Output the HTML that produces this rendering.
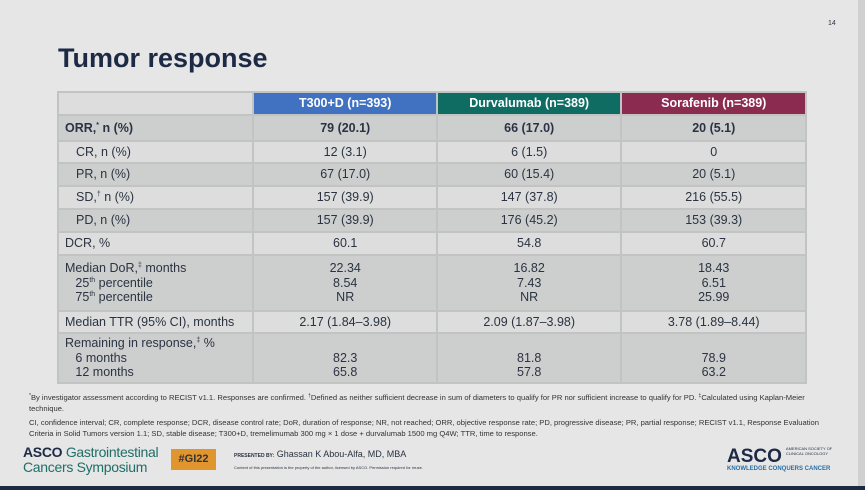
<!DOCTYPE html>
<html><head><meta charset="utf-8"><style>
body{margin:0;width:865px;height:490px;overflow:hidden;background:#e5e6e5;font-family:"Liberation Sans",sans-serif;color:#2b3342;position:relative}
.abs{position:absolute}
sup{font-size:7px;vertical-align:baseline;position:relative;top:-5px;line-height:0}
table{position:absolute;left:57px;top:91px;width:750px;border-collapse:collapse;font-size:12.5px}
td{border:2px solid #c2c4c3;padding:0;text-align:center;line-height:14.5px}
td.l{text-align:left;padding-left:6px}
td.i{padding-left:17px}
.d td{background:#cdcfce}
.w td{background:#dcdddc}
.h td{color:#fff;font-weight:bold}
</style></head><body>
<div class="abs" style="left:828px;top:20px;font-size:7px">14</div>
<div class="abs" style="left:58px;top:43px;font-size:27px;font-weight:bold;color:#1d2a45">Tumor response</div>
<table>
<colgroup><col style="width:196px"><col style="width:184px"><col style="width:185px"><col style="width:185px"></colgroup>
<tr class="h" style="height:23px"><td style="background:#dcdddc"></td><td style="background:#4172c1">T300+D (n=393)</td><td style="background:#0f6c63">Durvalumab (n=389)</td><td style="background:#8c2b50">Sorafenib (n=389)</td></tr>
<tr class="d" style="height:26px;font-weight:bold"><td class="l">ORR,<sup>*</sup> n (%)</td><td>79 (20.1)</td><td>66 (17.0)</td><td>20 (5.1)</td></tr>
<tr class="w" style="height:22px"><td class="l i">CR, n (%)</td><td>12 (3.1)</td><td>6 (1.5)</td><td>0</td></tr>
<tr class="d" style="height:23px"><td class="l i">PR, n (%)</td><td>67 (17.0)</td><td>60 (15.4)</td><td>20 (5.1)</td></tr>
<tr class="w" style="height:23px"><td class="l i">SD,<sup>†</sup> n (%)</td><td>157 (39.9)</td><td>147 (37.8)</td><td>216 (55.5)</td></tr>
<tr class="d" style="height:23px"><td class="l i">PD, n (%)</td><td>157 (39.9)</td><td>176 (45.2)</td><td>153 (39.3)</td></tr>
<tr class="w" style="height:23px"><td class="l">DCR, %</td><td>60.1</td><td>54.8</td><td>60.7</td></tr>
<tr class="d" style="height:56px"><td class="l">Median DoR,<sup>‡</sup> months<br>&nbsp;&nbsp;&nbsp;25<sup>th</sup> percentile<br>&nbsp;&nbsp;&nbsp;75<sup>th</sup> percentile</td><td>22.34<br>8.54<br>NR</td><td>16.82<br>7.43<br>NR</td><td>18.43<br>6.51<br>25.99</td></tr>
<tr class="w" style="height:22px"><td class="l">Median TTR (95% CI), months</td><td>2.17 (1.84–3.98)</td><td>2.09 (1.87–3.98)</td><td>3.78 (1.89–8.44)</td></tr>
<tr class="d" style="height:50px"><td class="l">Remaining in response,<sup>‡</sup> %<br>&nbsp;&nbsp;&nbsp;6 months<br>&nbsp;&nbsp;&nbsp;12 months</td><td><br>82.3<br>65.8</td><td><br>81.8<br>57.8</td><td><br>78.9<br>63.2</td></tr>
</table>
<div class="abs" style="left:29px;top:393px;width:800px;font-size:7.6px;line-height:10.5px;color:#333">
<div><sup style="top:-3px;font-size:5px">*</sup>By investigator assessment according to RECIST v1.1. Responses are confirmed. <sup style="top:-3px;font-size:5px">†</sup>Defined as neither sufficient decrease in sum of diameters to qualify for PR nor sufficient increase to qualify for PD. <sup style="top:-3px;font-size:5px">‡</sup>Calculated using Kaplan-Meier technique.</div>
<div style="margin-top:4px">CI, confidence interval; CR, complete response; DCR, disease control rate; DoR, duration of response; NR, not reached; ORR, objective response rate; PD, progressive disease; PR, partial response; RECIST v1.1, Response Evaluation Criteria in Solid Tumors version 1.1; SD, stable disease; T300+D, tremelimumab 300 mg × 1 dose + durvalumab 1500 mg Q4W; TTR, time to response.</div>
</div>
<div class="abs" style="left:23px;top:445px;font-size:14px;line-height:15px;color:#1f6e6a;letter-spacing:-0.3px"><b style="color:#1d2a45">ASCO</b> Gastrointestinal<br>Cancers Symposium</div>
<div class="abs" style="left:171px;top:449px;width:45px;height:21px;background:#e0952e;color:#333;font-size:11px;font-weight:bold;text-align:center;line-height:21px">#GI22</div>
<div class="abs" style="left:234px;top:449px;font-size:9px"><span style="font-size:5px;font-weight:bold">PRESENTED BY:</span> Ghassan K Abou-Alfa, MD, MBA</div>
<div class="abs" style="left:234px;top:465px;font-size:4px">Content of this presentation is the property of the author, licensed by ASCO. Permission required for reuse.</div>
<div class="abs" style="left:727px;top:446px;font-size:19px;font-weight:bold;color:#1d2a45">ASCO<span style="font-size:4px;font-weight:normal;vertical-align:top;margin-left:4px;display:inline-block;line-height:5px">AMERICAN SOCIETY OF<br>CLINICAL ONCOLOGY</span></div>
<div class="abs" style="left:727px;top:466px;font-size:6px;font-weight:bold;color:#2a6fa8">KNOWLEDGE CONQUERS CANCER</div>
<div class="abs" style="left:858px;top:0;width:7px;height:490px;background:#cfd0cf"></div>
<div class="abs" style="left:0;top:486px;width:865px;height:4px;background:#1d2a45"></div>
</body></html>
